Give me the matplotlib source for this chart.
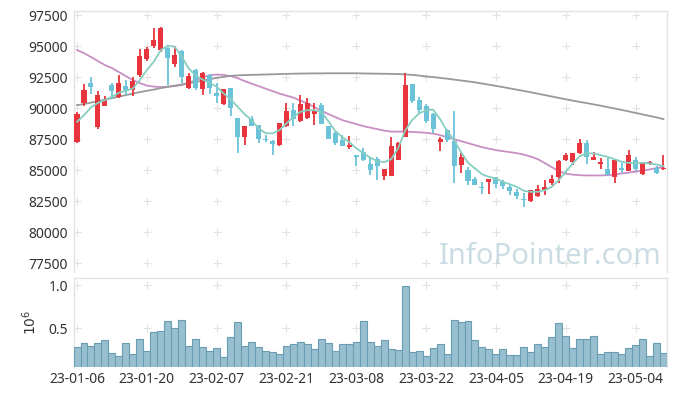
import matplotlib
matplotlib.use("Agg")
import matplotlib.pyplot as plt
import numpy as np

plt.rcParams['font.family'] = ['Noto Sans', 'DejaVu Sans']

# trading-day labels shown on the x axis (every 10th session)
tick_labels = ["23-01-06", "23-01-20", "23-02-07", "23-02-21", "23-03-08",
               "23-03-22", "23-04-05", "23-04-19", "23-05-04"]

# OHLC, 85 sessions
opens = [87300, 90380, 92040, 88450, 90190, 91860, 90920, 91780, 91460, 92660,
         93950, 95000, 94680, 94820, 93530, 94600, 91590, 93070, 91510, 92660,
         91190, 90300, 91590, 89170, 87690, 89090, 88630, 87510, 87340, 87020,
         88580, 89840, 88980, 89170, 89500, 90250, 88550, 88010, 87430, 86840,
         86220, 86430, 85490, 85870, 84520, 84520, 85810, 87690, 91940, 90650,
         90170, 89520, 87290, 88230, 87370, 85410, 85010, 84280, 83640, 84060,
         84420, 84040, 83660, 83260, 82650, 82510, 82940, 83400, 83940, 84470,
         85810, 85680, 86350, 87210, 85810, 85470, 85090, 84470, 85220, 84950,
         85810, 84660, 85470, 85220, 85060]
highs = [89700, 91940, 92530, 91400, 91000, 92000, 92660, 92260, 92480, 94740,
         94950, 96430, 96510, 94900, 95030, 94650, 92800, 93150, 92880, 92720,
         92040, 91520, 91600, 89200, 88600, 89360, 88680, 87830, 87400, 88800,
         90380, 90380, 91050, 90790, 90380, 90380, 88560, 88100, 87830, 87770,
         86220, 86760, 86080, 86080, 85100, 87690, 87290, 92800, 91950, 90920,
         90330, 89600, 87670, 88300, 89740, 86380, 85270, 84470, 84060, 84300,
         84440, 84200, 83800, 83450, 83130, 83420, 83800, 84200, 84600, 85800,
         86350, 86380, 87480, 87430, 86480, 85950, 86000, 85830, 85550, 86620,
         86030, 85650, 85730, 85330, 86220]
lows = [87200, 90170, 91130, 88290, 90150, 90750, 90830, 91030, 90970, 92530,
        93820, 94820, 94540, 91860, 93330, 92000, 91510, 91460, 91050, 91110,
        90380, 90250, 89360, 86400, 87020, 88550, 87160, 87290, 86220, 86940,
        88500, 88550, 88900, 89090, 88630, 88690, 87480, 87020, 86950, 86680,
        85330, 85760, 84600, 84200, 84200, 84520, 85810, 87690, 90380, 89600,
        88770, 87970, 86540, 87240, 83940, 84740, 83800, 83790, 83070, 83070,
        83530, 83450, 82990, 82650, 82000, 82450, 82860, 82990, 83800, 83940,
        85760, 85410, 86300, 85470, 85800, 85090, 84600, 83980, 84740, 84950,
        84950, 84640, 85410, 84690, 85050]
closes = [89500, 91460, 91720, 91050, 90650, 91370, 92040, 91460, 92180, 94200,
          94740, 95490, 96430, 94010, 94280, 92530, 92580, 91590, 92800, 91590,
          90970, 91510, 90030, 87690, 88550, 88580, 87480, 87430, 87080, 88770,
          89760, 89090, 90300, 90380, 89760, 88690, 87510, 87160, 86970, 87020,
          86030, 85810, 85010, 85350, 85090, 86940, 87160, 91860, 90590, 89840,
          88980, 88290, 87510, 87430, 85350, 86030, 84150, 83800, 83590, 84280,
          83880, 83720, 83340, 82940, 82630, 83400, 83480, 83610, 84280, 85760,
          86220, 86350, 87210, 86030, 86030, 85680, 84600, 85810, 85010, 86220,
          85060, 85630, 85650, 84790, 85220]

# moving averages
ma5 = [88900, 89440, 90060, 90430, 90650, 90915, 91240, 91400, 91590, 92260,
       93070, 93740, 94680, 95040, 94945, 94140, 93200, 92620, 92300, 92035,
       91720, 91190, 90705, 90110, 89520, 89040, 88370, 87990, 87965, 88230,
       88770, 89300, 89705, 89840, 89840, 89680, 88960, 88150, 87670, 87260,
       86780, 86380, 86015, 85730, 85650, 85890, 86780, 88190, 89040, 89580,
       89840, 89880, 89120, 88150, 87425, 86460, 85610, 85145, 84685, 84467,
       84338, 84064, 83879, 83661, 83339, 83258, 83258, 83395, 83661, 84201,
       84870, 85547, 86135, 86353, 86353, 86216, 86079, 85894, 85676, 85595,
       85595, 85595, 85547, 85466, 85330]
ma20 = [94679, 94437, 94115, 93792, 93470, 93228, 92906, 92583, 92261, 92019,
        91818, 91737, 91697, 91737, 91777, 91858, 92019, 92261, 92462, 92664,
        92704, 92680, 92583, 92422, 92180, 91979, 91777, 91576, 91374, 91173,
        91012, 90850, 90609, 90367, 90085, 89803, 89521, 89279, 89037, 88876,
        88715, 88553, 88432, 88312, 88191, 88110, 88110, 88110, 88086, 88054,
        88013, 87949, 87828, 87667, 87506, 87344, 87183, 87022, 86861, 86740,
        86619, 86538, 86458, 86377, 86256, 86095, 85894, 85571, 85249, 84926,
        84725, 84644, 84604, 84580, 84580, 84580, 84604, 84660, 84741, 84805,
        84886, 84967, 85063, 85168, 85273]
ma_long = [90246, 90327, 90447, 90568, 90689, 90810, 90931, 91052, 91173, 91294,
           91399, 91495, 91616, 91713, 91810, 91914, 92019, 92116, 92221, 92342,
           92438, 92519, 92600, 92640, 92664, 92680, 92696, 92712, 92728, 92745,
           92761, 92777, 92785, 92793, 92801, 92801, 92809, 92809, 92809, 92809,
           92809, 92793, 92785, 92777, 92769, 92761, 92745, 92720, 92680, 92624,
           92559, 92503, 92438, 92374, 92301, 92229, 92156, 92076, 91987, 91890,
           91794, 91697, 91592, 91487, 91382, 91278, 91165, 91052, 90939, 90826,
           90713, 90609, 90504, 90407, 90302, 90198, 90085, 89972, 89859, 89738,
           89617, 89496, 89376, 89255, 89118]

# volume in millions
volume = [0.280, 0.327, 0.300, 0.327, 0.360, 0.220, 0.177, 0.327, 0.200, 0.373,
          0.234, 0.454, 0.465, 0.580, 0.500, 0.592, 0.292, 0.373, 0.280, 0.234,
          0.269, 0.165, 0.396, 0.569, 0.300, 0.338, 0.280, 0.234, 0.223, 0.200,
          0.292, 0.315, 0.338, 0.315, 0.257, 0.373, 0.327, 0.234, 0.315, 0.315,
          0.342, 0.580, 0.342, 0.292, 0.361, 0.257, 0.246, 0.985, 0.223, 0.234,
          0.177, 0.269, 0.315, 0.200, 0.592, 0.569, 0.580, 0.361, 0.280, 0.257,
          0.200, 0.257, 0.188, 0.188, 0.280, 0.223, 0.315, 0.280, 0.396, 0.558,
          0.408, 0.269, 0.373, 0.373, 0.408, 0.200, 0.223, 0.223, 0.200, 0.269,
          0.304, 0.373, 0.177, 0.327, 0.211]

up_color = "#e8343c"
down_color = "#6cc3d8"
grid_color = "#e2e2e2"
text_color = "#333333"

o = np.array(opens)
c = np.array(closes)
x = np.arange(len(o))
colors = [up_color if cc >= oo else down_color for oo, cc in zip(o, c)]

fig = plt.figure(figsize=(6.77, 3.96), dpi=100)
ax = fig.add_axes([0.1086, 0.313, 0.8766, 0.660])
axv = fig.add_axes([0.1086, 0.0725, 0.8766, 0.2245], sharex=ax)

# candles
ax.vlines(x, lows, highs, colors=colors, linewidth=1.3, zorder=3)
body_bottom = np.minimum(o, c)
body_height = np.maximum(np.abs(c - o), 50)
ax.bar(x, body_height, bottom=body_bottom, width=0.72, color=colors,
       linewidth=0, zorder=4)

ax.plot(x, ma5, color="#86cfc0", linewidth=1.3, zorder=5)
ax.plot(x, ma20, color="#c98fc4", linewidth=1.3, zorder=2)
ax.plot(x, ma_long, color="#999999", linewidth=1.3, zorder=2)

price_ticks = [77500, 80000, 82500, 85000, 87500, 90000, 92500, 95000, 97500]
tick_pos = list(range(0, len(x), 10))

ax.set_ylim(76800, 97850)
ax.set_xlim(-0.5, len(x) - 0.5)
ax.set_yticks(price_ticks)
ax.set_yticklabels([str(v) for v in price_ticks])
ax.tick_params(axis="x", labelbottom=False, length=0)
ax.tick_params(axis="y", length=0, labelsize=10, labelcolor=text_color, pad=4)

gx, gy = np.meshgrid(tick_pos, price_ticks)
ax.scatter(gx.ravel(), gy.ravel(), marker="+", s=26, color=grid_color,
           linewidths=0.8, zorder=1)

ax.text(0.803, 0.06, "InfoPointer.com", transform=ax.transAxes, ha="center",
        va="center", fontsize=21, color="#aac6d3", alpha=0.6, zorder=6)

# volume
axv.bar(x, volume, width=1.0, color="#98bfcf", edgecolor="#6a9db3",
        linewidth=0.8, zorder=3)
axv.set_ylim(0.05, 1.077)
axv.set_yticks([0.5, 1.0])
axv.set_yticklabels(["0.5", "1.0"])
axv.set_xticks(tick_pos)
axv.set_xticklabels(tick_labels)
axv.tick_params(length=0, labelsize=10, labelcolor=text_color)
axv.tick_params(axis="y", pad=4)
axv.set_ylabel("$10^6$", fontsize=10, color=text_color, labelpad=6)

vx, vy = np.meshgrid(tick_pos, [0.5, 1.0])
axv.scatter(vx.ravel(), vy.ravel(), marker="+", s=26, color=grid_color,
            linewidths=0.8, zorder=1)

for a in (ax, axv):
    for side in ("left", "top", "right"):
        a.spines[side].set_color("#e3e3e3")
        a.spines[side].set_linewidth(1.0)
    a.spines["bottom"].set_visible(False)

fig.savefig("out.png", dpi=100)
